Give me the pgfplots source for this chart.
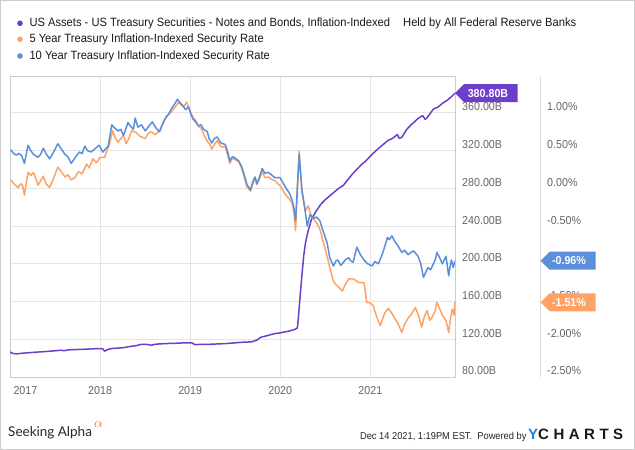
\documentclass[border=0pt]{standalone}
\usepackage{fontspec}
\setmainfont{Liberation Sans}[FakeStretch=0.93]
\newfontfamily\logofont{Lato}
\newfontfamily\ycfont{Liberation Sans}[LetterSpace=30]
\usepackage{pgfplots}
\pgfplotsset{compat=1.18}
\definecolor{cPurple}{HTML}{6B3FCB}
\definecolor{cOrange}{HTML}{FFA266}
\definecolor{cBlue}{HTML}{5A8FDB}
\definecolor{cGrid}{HTML}{E4E4E4}
\definecolor{cFrame}{HTML}{CCCCCC}
\definecolor{cTick}{HTML}{666666}
\definecolor{cYC}{HTML}{1E80E0}
\definecolor{cSA}{HTML}{F47B20}
\begin{document}
\begin{tikzpicture}
\useasboundingbox (0pt,0pt) rectangle (635pt,450pt);
\fill[white] (0pt,0pt) rectangle (635pt,450pt);
\draw[cFrame, line width=0.8pt] (0.4pt,0.4pt) rectangle (634.6pt,449.6pt);
% legend
\fill[cPurple] (20pt,426.7pt) circle (2.8pt);
\fill[cOrange] (20pt,410.7pt) circle (2.8pt);
\fill[cBlue] (20pt,394.0pt) circle (2.8pt);
\node[anchor=west, inner sep=0, text=black!90] at (29.3pt,426.7pt) {\fontsize{12}{14}\selectfont US Assets - US Treasury Securities - Notes and Bonds, Inflation-Indexed};
\node[anchor=west, inner sep=0, text=black!90] at (403pt,426.7pt) {\fontsize{12}{14}\selectfont Held by All Federal Reserve Banks};
\node[anchor=west, inner sep=0, text=black!90] at (29.3pt,410.7pt) {\fontsize{12}{14}\selectfont 5 Year Treasury Inflation-Indexed Security Rate};
\node[anchor=west, inner sep=0, text=black!90] at (29.3pt,394.0pt) {\fontsize{12}{14}\selectfont 10 Year Treasury Inflation-Indexed Security Rate};

\begin{axis}[
  at={(10pt,73pt)}, anchor=south west, scale only axis,
  width=445pt, height=301pt,
  xmin=2017, xmax=2021.94, ymin=80, ymax=399,
  axis line style={draw=cFrame},
  grid=major, grid style={draw=cGrid, line width=0.6pt},
  major tick length=0pt,
  xtick={2017,2018,2019,2020,2021},
  xticklabels={\makebox[0pt][l]{\hspace{3.5pt}2017},2018,2019,2020,2021},
  xticklabel style={anchor=base, inner sep=0pt, yshift=-18pt, text=cTick, font=\fontsize{11.5}{13}\selectfont},
  ytick={80,120,160,200,240,280,320,360},
  yticklabels={80.00B,120.00B,160.00B,200.00B,240.00B,280.00B,320.00B,360.00B},
  yticklabel pos=right,
  yticklabel style={anchor=base west, inner sep=0pt, xshift=7pt, yshift=2pt, text=cTick, font=\fontsize{11.5}{13}\selectfont},
]
\addplot[cPurple, line width=1.5pt, line join=round] coordinates {
(2017.00,106.5)(2017.03,105.0)(2017.07,104.5)(2017.15,105.3)(2017.27,106.2)(2017.40,107.0)
(2017.50,107.8)(2017.57,108.4)(2017.60,107.8)(2017.65,108.8)(2017.80,109.3)(2018.00,110.2)
(2018.03,109.8)(2018.05,107.3)(2018.08,109.0)(2018.13,110.2)(2018.25,111.0)(2018.35,112.6)
(2018.40,113.2)(2018.46,114.7)(2018.52,114.5)(2018.57,113.7)(2018.62,114.8)(2018.72,115.4)
(2018.85,115.8)(2018.94,116.2)(2019.02,116.2)(2019.05,114.4)(2019.20,114.6)(2019.39,115.4)
(2019.50,116.2)(2019.57,116.8)(2019.62,117.0)(2019.68,117.2)(2019.74,119.0)(2019.78,122.0)
(2019.83,123.2)(2019.90,125.0)(2019.94,126.0)(2020.00,126.8)(2020.09,128.5)(2020.16,130.3)
(2020.19,132.0)(2020.20,141)(2020.22,165)(2020.24,187)(2020.26,208)(2020.28,222)
(2020.31,235)(2020.35,248)(2020.40,256)(2020.45,263)(2020.50,268)(2020.55,272)
(2020.60,276)(2020.65,280)(2020.70,283)(2020.75,289)(2020.80,295)(2020.85,300)
(2020.90,305)(2020.95,309)(2021.03,317)(2021.10,323)(2021.15,327)(2021.20,331)
(2021.25,333)(2021.30,337)(2021.32,333)(2021.35,334)(2021.40,342)(2021.45,347)
(2021.53,354)(2021.58,357)(2021.61,353)(2021.64,356)(2021.70,364)(2021.75,366)
(2021.80,370)(2021.85,373)(2021.90,377)(2021.94,380.8)
};
\coordinate (tp) at (axis cs:2021.94,380.8);
\end{axis}

\begin{axis}[
  at={(10pt,73pt)}, anchor=south west, scale only axis,
  width=445pt, height=301pt,
  xmin=2017, xmax=2021.94, ymin=-2.5, ymax=1.4875,
  axis line style={draw=none},
  major tick length=0pt,
  xtick=\empty,
  ytick={-2.5,-2,-1.5,-1,-0.5,0,0.5,1},
  yticklabels={-2.50\%,-2.00\%,-1.50\%,-1.00\%,-0.50\%,0.00\%,0.50\%,1.00\%},
  yticklabel pos=right,
  yticklabel style={anchor=base west, inner sep=0pt, xshift=92pt, yshift=2pt, text=cTick, font=\fontsize{11.5}{13}\selectfont},
]
\addplot[cOrange, line width=1.5pt, line join=round] coordinates {
(2017.01,0.11)(2017.05,0.05)(2017.09,0.01)(2017.12,0.06)(2017.14,0.04)(2017.16,-0.09)(2017.20,0.21)(2017.23,0.17)(2017.26,0.21)
(2017.29,0.12)(2017.31,0.04)(2017.34,0.10)(2017.37,0.16)(2017.40,0.06)(2017.44,0.01)(2017.48,0.12)(2017.53,0.28)(2017.57,0.22)(2017.61,0.15)(2017.64,0.18)(2017.68,0.11)
(2017.72,0.14)(2017.76,0.22)(2017.80,0.19)(2017.85,0.32)(2017.88,0.27)(2017.92,0.39)(2017.96,0.34)(2018.00,0.41)(2018.05,0.41)(2018.11,0.61)
(2018.14,0.76)(2018.17,0.66)(2018.20,0.61)(2018.23,0.66)(2018.26,0.70)(2018.29,0.59)(2018.32,0.66)(2018.35,0.76)(2018.40,0.74)(2018.44,0.69)
(2018.50,0.66)(2018.53,0.72)(2018.57,0.75)(2018.61,0.71)(2018.66,0.76)(2018.70,0.86)(2018.74,0.96)(2018.79,1.01)(2018.83,1.07)(2018.86,1.12)(2018.89,1.14)
(2018.93,1.08)(2018.96,1.14)(2019.00,1.02)(2019.03,0.94)(2019.06,0.90)(2019.09,0.82)(2019.12,0.80)(2019.15,0.72)(2019.19,0.62)(2019.22,0.58)(2019.24,0.52)
(2019.27,0.58)(2019.30,0.63)(2019.34,0.55)(2019.39,0.55)(2019.42,0.42)(2019.44,0.33)(2019.47,0.40)(2019.50,0.38)(2019.54,0.35)(2019.57,0.27)(2019.60,0.15)(2019.63,0.02)
(2019.67,-0.04)(2019.70,0.08)(2019.72,0.14)(2019.74,0.05)(2019.76,0.10)(2019.80,0.22)(2019.83,0.14)(2019.87,0.15)(2019.90,0.12)(2019.94,0.10)
(2020.00,0.03)(2020.04,-0.05)(2020.07,-0.10)(2020.10,-0.14)(2020.13,-0.19)(2020.15,-0.30)(2020.17,-0.56)(2020.21,0.49)(2020.24,-0.05)
(2020.28,-0.30)(2020.31,-0.23)(2020.33,-0.32)(2020.36,-0.40)(2020.40,-0.45)(2020.44,-0.54)(2020.48,-0.72)(2020.52,-0.90)(2020.55,-1.05)(2020.59,-1.23)
(2020.62,-1.28)(2020.64,-1.30)(2020.69,-1.36)(2020.72,-1.28)(2020.76,-1.20)(2020.81,-1.20)(2020.84,-1.22)(2020.87,-1.25)(2020.93,-1.25)
(2020.96,-1.51)(2021.00,-1.52)(2021.03,-1.55)(2021.07,-1.70)(2021.11,-1.82)(2021.16,-1.65)(2021.20,-1.59)(2021.24,-1.66)(2021.27,-1.72)(2021.31,-1.80)
(2021.35,-1.91)(2021.38,-1.80)(2021.42,-1.72)(2021.46,-1.66)(2021.50,-1.58)(2021.54,-1.70)(2021.57,-1.84)(2021.60,-1.70)(2021.63,-1.62)(2021.66,-1.75)(2021.69,-1.70)
(2021.72,-1.62)(2021.74,-1.51)(2021.77,-1.60)(2021.80,-1.68)(2021.84,-1.75)(2021.87,-1.91)(2021.89,-1.72)(2021.91,-1.60)(2021.93,-1.68)(2021.94,-1.51)
};
\addplot[cBlue, line width=1.5pt, line join=round] coordinates {
(2017.01,0.51)(2017.04,0.46)(2017.07,0.44)(2017.10,0.46)(2017.13,0.43)(2017.16,0.33)(2017.20,0.57)(2017.23,0.50)(2017.26,0.45)
(2017.31,0.41)(2017.34,0.45)(2017.37,0.53)(2017.40,0.46)(2017.44,0.39)(2017.48,0.47)(2017.53,0.59)(2017.57,0.52)(2017.61,0.45)(2017.64,0.42)(2017.68,0.33)
(2017.72,0.40)(2017.77,0.48)(2017.80,0.46)(2017.83,0.56)(2017.86,0.50)(2017.90,0.48)(2017.94,0.52)(2017.99,0.57)(2018.03,0.48)(2018.06,0.52)(2018.09,0.56)
(2018.13,0.84)(2018.16,0.80)(2018.20,0.76)(2018.23,0.78)(2018.26,0.70)(2018.31,0.87)(2018.34,0.82)(2018.37,0.78)(2018.39,0.93)
(2018.42,0.81)(2018.46,0.84)(2018.50,0.76)(2018.54,0.82)(2018.58,0.88)(2018.62,0.80)(2018.66,0.75)(2018.69,0.84)(2018.72,0.92)(2018.76,0.98)(2018.79,1.05)
(2018.83,1.12)(2018.86,1.18)(2018.89,1.12)(2018.92,1.09)(2018.95,1.04)(2018.98,1.08)(2019.01,0.98)(2019.03,0.92)(2019.06,0.88)(2019.09,0.83)(2019.12,0.84)(2019.15,0.78)
(2019.19,0.75)(2019.21,0.66)(2019.24,0.60)(2019.27,0.66)(2019.30,0.68)(2019.34,0.60)(2019.39,0.58)(2019.42,0.47)(2019.44,0.36)(2019.47,0.42)(2019.50,0.40)
(2019.54,0.36)(2019.57,0.29)(2019.60,0.18)(2019.63,0.05)(2019.67,-0.02)(2019.70,0.10)(2019.72,0.15)(2019.74,0.06)(2019.76,0.12)(2019.80,0.26)
(2019.83,0.20)(2019.87,0.21)(2019.90,0.18)(2019.94,0.14)(2020.00,0.14)(2020.04,0.05)(2020.07,-0.01)(2020.10,-0.06)(2020.13,-0.15)(2020.15,-0.25)(2020.17,-0.43)
(2020.21,0.45)(2020.24,-0.01)(2020.27,-0.25)(2020.30,-0.50)(2020.33,-0.35)(2020.37,-0.40)
(2020.40,-0.38)(2020.44,-0.43)(2020.48,-0.58)(2020.52,-0.72)(2020.55,-0.92)(2020.59,-1.03)(2020.62,-0.96)(2020.64,-0.95)(2020.67,-1.02)(2020.69,-1.00)(2020.72,-0.95)(2020.76,-0.92)
(2020.78,-0.96)(2020.81,-0.98)(2020.85,-0.78)(2020.89,-0.88)(2020.93,-0.95)(2020.97,-1.00)(2021.02,-1.03)(2021.05,-0.97)(2021.09,-1.00)(2021.14,-0.85)
(2021.19,-0.65)(2021.21,-0.68)(2021.24,-0.63)(2021.27,-0.70)(2021.30,-0.75)(2021.35,-0.85)(2021.38,-0.82)(2021.42,-0.88)(2021.45,-0.85)(2021.48,-0.83)
(2021.53,-0.90)(2021.56,-1.00)(2021.59,-1.18)(2021.62,-1.10)(2021.64,-1.05)(2021.67,-1.08)(2021.70,-1.00)(2021.72,-0.95)(2021.74,-0.85)(2021.77,-0.92)(2021.80,-1.00)
(2021.82,-0.95)(2021.84,-0.90)(2021.87,-1.16)(2021.89,-1.00)(2021.90,-0.95)(2021.92,-1.05)(2021.94,-0.96)
};
\coordinate (tb) at (axis cs:2021.94,-0.96);
\coordinate (to) at (axis cs:2021.94,-1.51);
\end{axis}

% separator line
\draw[cFrame!70, line width=0.6pt] (540.5pt,73pt) -- (540.5pt,374pt);

% value tags
\fill[cPurple] (tp) -- +(9pt,9pt) -- +(62.7pt,9pt) -- +(62.7pt,-9pt) -- +(9pt,-9pt) -- cycle;
\node[text=white, inner sep=0, font=\bfseries\fontsize{11.5}{13}\selectfont] at ([xshift=33pt]tp) {380.80B};
\fill[cBlue] ([xshift=85.7pt]tb) -- +(9pt,9pt) -- +(55pt,9pt) -- +(55pt,-9pt) -- +(9pt,-9pt) -- cycle;
\node[text=white, inner sep=0, font=\bfseries\fontsize{11.5}{13}\selectfont] at ([xshift=114pt]tb) {-0.96\%};
\fill[cOrange] ([xshift=85.7pt]to) -- +(9pt,9pt) -- +(55pt,9pt) -- +(55pt,-9pt) -- +(9pt,-9pt) -- cycle;
\node[text=white, inner sep=0, font=\bfseries\fontsize{11.5}{13}\selectfont] at ([xshift=114pt]to) {-1.51\%};

% footer
\node[anchor=base west, inner sep=0, text=black!85] at (8pt,13pt) {\logofont\fontsize{13.5}{16}\selectfont Seeking Alpha};
\node[anchor=base west, inner sep=0, text=cSA] at (94pt,22pt) {\fontsize{14}{16}\selectfont$\alpha$};
\node[anchor=base east, inner sep=0, text=black!85] at (526.7pt,10pt) {\fontsize{10}{12}\selectfont Dec 14 2021, 1:19PM EST.\ \ Powered by};
\node[anchor=base west, inner sep=0] at (528pt,10pt) {\ycfont\bfseries\fontsize{15}{16}\selectfont\textcolor{cYC}{Y}\textcolor{black!90}{CHARTS}};
\end{tikzpicture}
\end{document}
